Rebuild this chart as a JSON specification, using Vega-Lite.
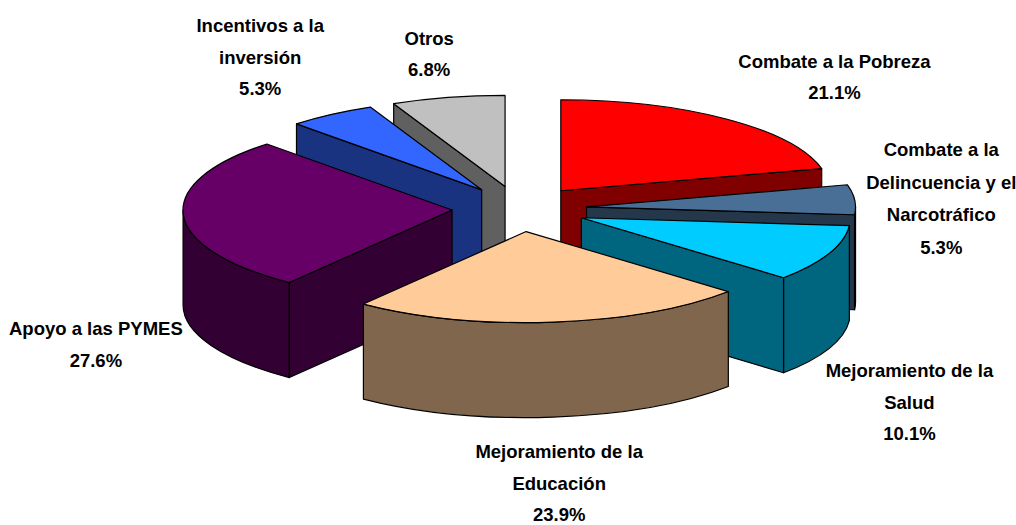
{"$schema":"https://vega.github.io/schema/vega-lite/v6.json","width":1016,"height":525,"padding":0,"autosize":{"type":"fit","contains":"padding"},"background":"white","view":{"stroke":null},
"params":[{"name":"rx","value":269},{"name":"ry","value":91},{"name":"d","value":95},{"name":"cx","value":524},{"name":"cy","value":210},{"name":"ex","value":68},{"name":"ey","value":23}],
"data":{"values":[
{"categoria":"Combate a la Pobreza","etiqueta":"Combate a la Pobreza","valor":21.1},
{"categoria":"Combate a la Delincuencia y el Narcotráfico","etiqueta":"Combate a la\nDelincuencia y el\nNarcotráfico","valor":5.3},
{"categoria":"Mejoramiento de la Salud","etiqueta":"Mejoramiento de la\nSalud","valor":10.1},
{"categoria":"Mejoramiento de la Educación","etiqueta":"Mejoramiento de la\nEducación","valor":23.9},
{"categoria":"Apoyo a las PYMES","etiqueta":"Apoyo a las PYMES","valor":27.6},
{"categoria":"Incentivos a la inversión","etiqueta":"Incentivos a la\ninversión","valor":5.3},
{"categoria":"Otros","etiqueta":"Otros","valor":6.8}]},
"transform":[
{"window":[{"op":"sum","field":"valor","as":"c1"}],"frame":[null,0]},
{"joinaggregate":[{"op":"sum","field":"valor","as":"total"}]},
{"calculate":"2*PI*(datum.c1-datum.valor)/datum.total","as":"a1"},
{"calculate":"2*PI*datum.c1/datum.total","as":"a2"},
{"calculate":"(datum.a1+datum.a2)/2","as":"mid"},
{"calculate":"cx+ex*sin(datum.mid)","as":"ax"},
{"calculate":"cy-ey*cos(datum.mid)","as":"ay"},
{"calculate":"516+430*sin(datum.mid)","as":"lx"},
{"calculate":"270-215*cos(datum.mid)","as":"ly"},
{"calculate":"datum.etiqueta+'\\n'+format(datum.valor,'.1f')+'%'","as":"rotulo"}
],
"encoding":{
"x":{"field":"ax","type":"quantitative","scale":{"domain":[0,1016],"nice":false,"zero":false},"axis":null},
"y":{"field":"ay","type":"quantitative","scale":{"domain":[0,525],"reverse":true,"nice":false,"zero":false},"axis":null}},
"layer":[
{"transform":[
{"calculate":"[0,1,2,3]","as":"parte"},
{"flatten":["parte"]},
{"calculate":"max(datum.a1,PI/2)","as":"w1"},
{"calculate":"min(datum.a2,3*PI/2)","as":"w2"},
{"filter":"datum.parte==3||(datum.parte==0&&datum.w2>datum.w1)||(datum.parte==1&&sin(datum.a1)<-0.01)||(datum.parte==2&&sin(datum.a2)>0.01)"},
{"calculate":"round(rx*sin(datum.a1)*10)/10","as":"x1"},
{"calculate":"round(-ry*cos(datum.a1)*10)/10","as":"y1"},
{"calculate":"round(rx*sin(datum.a2)*10)/10","as":"x2"},
{"calculate":"round(-ry*cos(datum.a2)*10)/10","as":"y2"},
{"calculate":"round(rx*sin(datum.w1)*10)/10","as":"wx1"},
{"calculate":"round(-ry*cos(datum.w1)*10)/10","as":"wy1"},
{"calculate":"round(rx*sin(datum.w2)*10)/10","as":"wx2"},
{"calculate":"round(-ry*cos(datum.w2)*10)/10","as":"wy2"},
{"calculate":"datum.a2-datum.a1>PI?1:0","as":"lg"},
{"calculate":"' '+rx+' '+ry+' 0 '+datum.lg","as":"arco"},
{"calculate":"datum.parte==0?('M'+datum.wx1+' '+datum.wy1+'A'+datum.arco+' 1 '+datum.wx2+' '+datum.wy2+'L'+datum.wx2+' '+(datum.wy2+d)+'A'+datum.arco+' 0 '+datum.wx1+' '+(datum.wy1+d)+'Z'):datum.parte==1?('M0 0L'+datum.x1+' '+datum.y1+'L'+datum.x1+' '+(datum.y1+d)+'L0 '+d+'Z'):datum.parte==2?('M0 0L'+datum.x2+' '+datum.y2+'L'+datum.x2+' '+(datum.y2+d)+'L0 '+d+'Z'):('M0 0L'+datum.x1+' '+datum.y1+'A'+datum.arco+' 1 '+datum.x2+' '+datum.y2+'Z')","as":"forma"},
{"calculate":"datum.ay+datum.parte/10","as":"orden"},
{"calculate":"datum.categoria+(datum.parte==3?'':' (lado)')","as":"cara"}],
"mark":{"type":"point","filled":true,"opacity":1,"size":4,"stroke":"#000000","strokeWidth":1.2,"strokeOpacity":1,"strokeJoin":"round"},
"encoding":{
"shape":{"field":"forma","type":"nominal","scale":null},
"order":{"field":"orden","type":"quantitative"},
"color":{"field":"cara","type":"nominal","legend":null,"scale":{
"domain":["Combate a la Pobreza","Combate a la Pobreza (lado)","Combate a la Delincuencia y el Narcotráfico","Combate a la Delincuencia y el Narcotráfico (lado)","Mejoramiento de la Salud","Mejoramiento de la Salud (lado)","Mejoramiento de la Educación","Mejoramiento de la Educación (lado)","Apoyo a las PYMES","Apoyo a las PYMES (lado)","Incentivos a la inversión","Incentivos a la inversión (lado)","Otros","Otros (lado)"],
"range":["#FF0000","#800000","#4A6F96","#25374B","#00CCFF","#006680","#FFCC99","#80664D","#660066","#330033","#3366FF","#1A3380","#C0C0C0","#606060"]}}}},
{"transform":[{"filter":"datum.categoria=='Combate a la Pobreza'"}],"mark":{"type":"text","font":"Liberation Sans","fontWeight":"bold","fontSize":18.5,"baseline":"alphabetic","lineBreak":"\n","lineHeight":31.5,"color":"#000000","dx":61,"dy":-32},"encoding":{"x":{"field":"lx","type":"quantitative"},"y":{"field":"ly","type":"quantitative"},"text":{"field":"rotulo"}}},
{"transform":[{"filter":"datum.categoria=='Combate a la Delincuencia y el Narcotráfico'"}],"mark":{"type":"text","font":"Liberation Sans","fontWeight":"bold","fontSize":18.5,"baseline":"alphabetic","lineBreak":"\n","lineHeight":32.5,"color":"#000000","dx":5,"dy":-95},"encoding":{"x":{"field":"lx","type":"quantitative"},"y":{"field":"ly","type":"quantitative"},"text":{"field":"rotulo"}}},
{"transform":[{"filter":"datum.categoria=='Mejoramiento de la Salud'"}],"mark":{"type":"text","font":"Liberation Sans","fontWeight":"bold","fontSize":18.5,"baseline":"alphabetic","lineBreak":"\n","lineHeight":31.5,"color":"#000000","dx":6,"dy":25},"encoding":{"x":{"field":"lx","type":"quantitative"},"y":{"field":"ly","type":"quantitative"},"text":{"field":"rotulo"}}},
{"transform":[{"filter":"datum.categoria=='Mejoramiento de la Educación'"}],"mark":{"type":"text","font":"Liberation Sans","fontWeight":"bold","fontSize":18.5,"baseline":"alphabetic","lineBreak":"\n","lineHeight":31.5,"color":"#000000","dx":5,"dy":-23},"encoding":{"x":{"field":"lx","type":"quantitative"},"y":{"field":"ly","type":"quantitative"},"text":{"field":"rotulo"}}},
{"transform":[{"filter":"datum.categoria=='Apoyo a las PYMES'"}],"mark":{"type":"text","font":"Liberation Sans","fontWeight":"bold","fontSize":18.5,"baseline":"alphabetic","lineBreak":"\n","lineHeight":31.5,"color":"#000000","dx":10,"dy":55},"encoding":{"x":{"field":"lx","type":"quantitative"},"y":{"field":"ly","type":"quantitative"},"text":{"field":"rotulo"}}},
{"transform":[{"filter":"datum.categoria=='Incentivos a la inversión'"}],"mark":{"type":"text","font":"Liberation Sans","fontWeight":"bold","fontSize":18.5,"baseline":"alphabetic","lineBreak":"\n","lineHeight":31.5,"color":"#000000","dx":-13,"dy":-59},"encoding":{"x":{"field":"lx","type":"quantitative"},"y":{"field":"ly","type":"quantitative"},"text":{"field":"rotulo"}}},
{"transform":[{"filter":"datum.categoria=='Otros'"}],"mark":{"type":"text","font":"Liberation Sans","fontWeight":"bold","fontSize":18.5,"baseline":"alphabetic","lineBreak":"\n","lineHeight":31.5,"color":"#000000","dx":8,"dy":-15},"encoding":{"x":{"field":"lx","type":"quantitative"},"y":{"field":"ly","type":"quantitative"},"text":{"field":"rotulo"}}}
]}
